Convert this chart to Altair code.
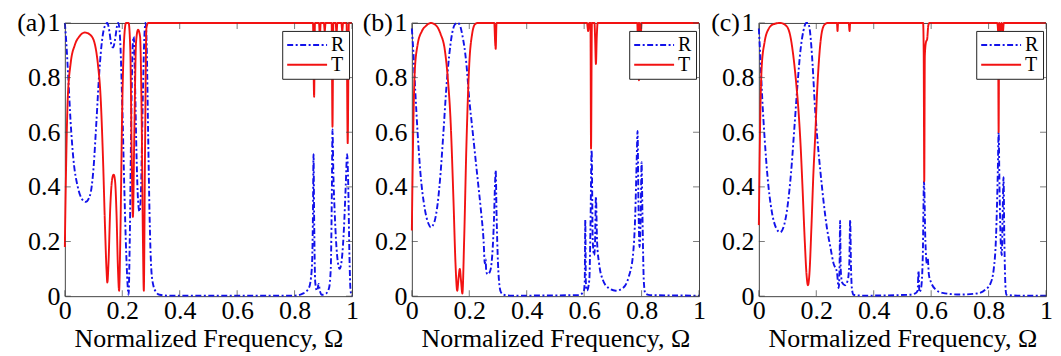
import altair as alt
import pandas as pd

# ------------------------------------------------------------------ data
x_title = "Normalized Frequency, Ω"
panel_labels = ["(a)", "(b)", "(c)"]
series_names = ["R", "T"]
tick_vals = [0, 0.2, 0.4, 0.6, 0.8, 1]

# panel (a)
a_R_f = [0, 0.005, 0.012, 0.02, 0.03, 0.045, 0.06, 0.073, 0.088, 0.1, 0.11, 0.12, 0.13, 0.14,
         0.148, 0.155, 0.162, 0.168, 0.175, 0.182, 0.186, 0.192, 0.2, 0.207, 0.214, 0.22, 0.222,
         0.226, 0.232, 0.237, 0.24, 0.244, 0.25, 0.255, 0.26, 0.265, 0.271, 0.277, 0.281, 0.285,
         0.29, 0.295, 0.301, 0.308, 0.318, 0.33, 0.36, 0.8, 0.83, 0.85, 0.86, 0.864, 0.866, 0.868,
         0.872, 0.878, 0.884, 0.888, 0.895, 0.91, 0.92, 0.926, 0.93, 0.932, 0.935, 0.94, 0.948,
         0.957, 0.965, 0.972, 0.978, 0.983, 0.987, 0.991, 0.995, 1.0]
a_R_v = [1.0, 0.93, 0.8, 0.64, 0.5, 0.4, 0.355, 0.345, 0.37, 0.47, 0.64, 0.82, 0.94, 0.99,
         1.0, 0.97, 0.92, 0.91, 0.94, 0.99, 1.0, 0.95, 0.7, 0.4, 0.15, 0.02, 0.005,
         0.2, 0.7, 0.93, 0.95, 0.8, 0.5, 0.35, 0.31, 0.38, 0.7, 0.95, 1.0, 0.92,
         0.6, 0.3, 0.1, 0.04, 0.015, 0.005, 0.002, 0.002, 0.01, 0.03, 0.1, 0.3, 0.52, 0.3,
         0.05, 0.02, 0.045, 0.02, 0.005, 0.01, 0.03, 0.1, 0.4, 0.61, 0.45, 0.3, 0.15,
         0.1, 0.14, 0.25, 0.4, 0.52, 0.4, 0.15, 0.02, 0.0]
a_T_f = [0, 0.004, 0.01, 0.02, 0.035, 0.05, 0.07, 0.09, 0.105, 0.115, 0.125, 0.133, 0.14, 0.145,
         0.148, 0.152, 0.158, 0.165, 0.17, 0.175, 0.18, 0.185, 0.189, 0.193, 0.2, 0.207, 0.213,
         0.222, 0.228, 0.233, 0.237, 0.242, 0.248, 0.255, 0.262, 0.267, 0.272, 0.275, 0.279, 0.284,
         0.29, 0.864, 0.868, 0.871, 0.885, 0.888, 0.891, 0.902, 0.905, 0.908, 0.929, 0.932, 0.935,
         0.943, 0.946, 0.949, 0.963, 0.966, 0.969, 0.981, 0.985, 0.989, 1.0]
a_T_v = [0.18, 0.45, 0.72, 0.85, 0.92, 0.95, 0.965, 0.955, 0.92, 0.85, 0.72, 0.5, 0.25, 0.1,
         0.05, 0.12, 0.32, 0.43, 0.445, 0.42, 0.3, 0.1, 0.02, 0.2, 0.7, 0.95, 1.0,
         1.0, 0.9, 0.5, 0.29, 0.6, 0.93, 0.975, 0.95, 0.7, 0.2, 0.02, 0.5, 0.98,
         1.0, 1.0, 0.73, 1.0, 1.0, 0.95, 1.0, 1.0, 0.97, 1.0, 1.0, 0.62, 1.0,
         1.0, 0.96, 1.0, 1.0, 0.97, 1.0, 1.0, 0.56, 1.0, 1.0]

# panel (b)
b_R_f = [0, 0.005, 0.012, 0.02, 0.03, 0.045, 0.058, 0.066, 0.078, 0.09, 0.1, 0.11, 0.12, 0.13,
         0.14, 0.15, 0.16, 0.168, 0.175, 0.19, 0.2, 0.21, 0.22, 0.23, 0.24, 0.25, 0.254, 0.257,
         0.259, 0.264, 0.272, 0.28, 0.286, 0.29, 0.292, 0.295, 0.3, 0.305, 0.31, 0.32, 0.35,
         0.58, 0.598, 0.602, 0.604, 0.606, 0.61, 0.618, 0.622, 0.626, 0.63, 0.635, 0.638, 0.641,
         0.645, 0.652, 0.665, 0.685, 0.71, 0.735, 0.755, 0.77, 0.778, 0.783, 0.786, 0.789, 0.793,
         0.797, 0.8, 0.803, 0.808, 0.813, 0.83, 1.0]
b_R_v = [0.98, 0.9, 0.75, 0.6, 0.45, 0.32, 0.265, 0.252, 0.27, 0.34, 0.45, 0.6, 0.76, 0.88,
         0.96, 0.995, 1.0, 0.99, 0.96, 0.85, 0.72, 0.62, 0.52, 0.42, 0.32, 0.2, 0.12, 0.135,
         0.09, 0.08, 0.09, 0.15, 0.28, 0.42, 0.46, 0.3, 0.12, 0.04, 0.015, 0.005, 0.002,
         0.004, 0.015, 0.05, 0.28, 0.05, 0.02, 0.06, 0.25, 0.535, 0.2, 0.15, 0.2, 0.365,
         0.2, 0.12, 0.06, 0.03, 0.02, 0.03, 0.07, 0.15, 0.3, 0.5, 0.605, 0.35, 0.18,
         0.3, 0.49, 0.3, 0.05, 0.01, 0.004, 0.002]
b_T_f = [0, 0.004, 0.01, 0.02, 0.035, 0.05, 0.066, 0.085, 0.1, 0.115, 0.125, 0.135, 0.145, 0.152,
         0.158, 0.163, 0.167, 0.171, 0.176, 0.182, 0.19, 0.2, 0.21, 0.22, 0.23, 0.287, 0.29,
         0.292, 0.295, 0.61, 0.614, 0.618, 0.622, 0.624, 0.627, 0.636, 0.638, 0.641, 0.644, 0.647,
         0.785, 0.787, 0.789, 0.791, 0.793, 0.797, 0.8, 1.0]
b_T_v = [0.24, 0.55, 0.82, 0.92, 0.97, 0.99, 1.0, 0.99, 0.96, 0.9, 0.8, 0.64, 0.35, 0.12,
         0.02, 0.07, 0.1, 0.06, 0.01, 0.2, 0.55, 0.85, 0.96, 0.995, 1.0, 1.0, 0.93,
         0.905, 1.0, 1.0, 0.97, 1.0, 1.0, 0.54, 1.0, 1.0, 0.95, 0.85, 0.95, 1.0,
         1.0, 0.95, 1.0, 0.79, 1.0, 0.95, 1.0, 1.0]

# panel (c)
c_R_f = [0, 0.005, 0.012, 0.02, 0.03, 0.045, 0.06, 0.074, 0.088, 0.1, 0.112, 0.124, 0.135, 0.145,
         0.155, 0.165, 0.171, 0.178, 0.187, 0.195, 0.205, 0.214, 0.225, 0.237, 0.249, 0.26, 0.272,
         0.278, 0.281, 0.283, 0.285, 0.29, 0.3, 0.31, 0.315, 0.318, 0.321, 0.325, 0.33, 0.36,
         0.52, 0.545, 0.553, 0.556, 0.559, 0.565, 0.571, 0.575, 0.58, 0.585, 0.588, 0.592, 0.6,
         0.615, 0.64, 0.7, 0.76, 0.79, 0.806, 0.818, 0.826, 0.832, 0.835, 0.838, 0.843, 0.846,
         0.849, 0.852, 0.855, 0.859, 0.862, 0.9, 1.0]
c_R_v = [0.98, 0.88, 0.72, 0.58, 0.44, 0.31, 0.25, 0.234, 0.26, 0.33, 0.45, 0.62, 0.78, 0.9,
         0.97, 1.0, 1.0, 0.97, 0.85, 0.7, 0.56, 0.46, 0.35, 0.25, 0.18, 0.12, 0.087,
         0.03, 0.1, 0.276, 0.1, 0.05, 0.04, 0.06, 0.12, 0.28, 0.1, 0.02, 0.005, 0.002,
         0.005, 0.01, 0.02, 0.093, 0.015, 0.03, 0.15, 0.42, 0.2, 0.12, 0.14, 0.08, 0.05,
         0.025, 0.012, 0.006, 0.01, 0.025, 0.045, 0.1, 0.22, 0.45, 0.6, 0.4, 0.18, 0.15,
         0.3, 0.435, 0.2, 0.03, 0.005, 0.002, 0.002]
c_T_f = [0, 0.004, 0.01, 0.02, 0.035, 0.05, 0.074, 0.095, 0.11, 0.12, 0.13, 0.138, 0.144, 0.152,
         0.16, 0.166, 0.171, 0.176, 0.183, 0.19, 0.196, 0.203, 0.212, 0.22, 0.23, 0.24, 0.272,
         0.274, 0.276, 0.313, 0.316, 0.318, 0.572, 0.574, 0.576, 0.578, 0.582, 0.586, 0.59, 0.594,
         0.83, 0.833, 0.835, 0.837, 0.842, 0.845, 0.85, 0.853, 1.0]
c_T_v = [0.26, 0.6, 0.84, 0.93, 0.98, 0.995, 1.0, 0.99, 0.95, 0.88, 0.78, 0.68, 0.58, 0.4,
         0.2, 0.08, 0.04, 0.08, 0.25, 0.45, 0.58, 0.75, 0.9, 0.97, 0.995, 1.0, 1.0,
         0.97, 1.0, 1.0, 0.97, 1.0, 1.0, 0.9, 0.42, 0.88, 0.93, 0.94, 0.99, 1.0,
         1.0, 0.97, 0.6, 1.0, 0.97, 1.0, 0.97, 1.0, 1.0]

# ------------------------------------------------------------------ style
FONT = "Liberation Serif"
RED = "#f21212"
BLUE = "#1212ea"
FRAME = "#444444"
W, H = 288, 274
LAB = 26


def panel(label, Rf, Rv, Tf, Tv):
    df = pd.concat([
        pd.DataFrame({"f": Rf, "v": Rv, "s": "R", "o": list(range(len(Rf)))}),
        pd.DataFrame({"f": Tf, "v": Tv, "s": "T", "o": list(range(len(Tf)))}),
    ], ignore_index=True)
    xs = alt.Scale(domain=[0, 1], nice=False, zero=False)
    ys = alt.Scale(domain=[0, 1], nice=False, zero=False)
    xaxis = alt.Axis(values=tick_vals, format="~g", labelFlush=False,
                     ticks=False, tickSize=0, domain=False, grid=False,
                     labelFont=FONT, labelFontSize=LAB, labelColor="black",
                     labelPadding=1, titleFont=FONT, titleFontSize=26,
                     titleFontWeight="normal", titleColor="black",
                     titleBaseline="alphabetic", titleY=50.5)
    yaxis = alt.Axis(values=tick_vals, format="~g", ticks=False, tickSize=0,
                     domain=False, grid=False, labelFont=FONT, labelFontSize=LAB,
                     labelColor="black", labelPadding=5)
    leg = alt.Legend(
        title=None, orient="none", legendX=218, legendY=8, direction="vertical",
        strokeColor="#222222", fillColor="white", padding=4, rowPadding=0,
        symbolType="stroke", symbolSize=1600, symbolStrokeWidth=2, clipHeight=20,
        labelFont=FONT, labelFontSize=20, labelColor="black", labelOffset=3,
    )
    lines = alt.Chart(df).mark_line(strokeWidth=1.9, interpolate="monotone").encode(
        x=alt.X("f:Q", scale=xs, title=x_title, axis=xaxis),
        y=alt.Y("v:Q", scale=ys, title=None, axis=yaxis),
        color=alt.Color("s:N", scale=alt.Scale(domain=series_names, range=[BLUE, RED]),
                        legend=leg),
        strokeDash=alt.StrokeDash("s:N", scale=alt.Scale(domain=series_names,
                                                         range=[[6, 2.5, 2, 2.5], [1, 0]]),
                                  legend=leg),
        order=alt.Order("o:Q"),
    )
    tdf = pd.DataFrame({"t": tick_vals})
    tx = alt.X("t:Q", scale=xs, title=x_title, axis=xaxis)
    ty = alt.Y("t:Q", scale=ys, title=None, axis=yaxis)
    tick_b = alt.Chart(tdf).mark_tick(orient="vertical", size=6, thickness=1, color=FRAME).encode(
        x=tx, y=alt.value(H - 3))
    tick_t = alt.Chart(tdf).mark_tick(orient="vertical", size=6, thickness=1, color=FRAME).encode(
        x=tx, y=alt.value(3))
    tick_l = alt.Chart(tdf).mark_tick(orient="horizontal", size=6, thickness=1, color=FRAME).encode(
        y=ty, x=alt.value(3))
    tick_r = alt.Chart(tdf).mark_tick(orient="horizontal", size=6, thickness=1, color=FRAME).encode(
        y=ty, x=alt.value(W - 3))
    lab = alt.Chart(pd.DataFrame({"label": [label]})).mark_text(
        align="right", baseline="middle", font=FONT, fontSize=LAB, color="black").encode(
        x=alt.value(-19), y=alt.value(0), text="label:N")
    return alt.layer(lines, tick_b, tick_t, tick_l, tick_r, lab).properties(width=W, height=H)


pa = panel(panel_labels[0], a_R_f, a_R_v, a_T_f, a_T_v)
pb = panel(panel_labels[1], b_R_f, b_R_v, b_T_f, b_T_v)
pc = panel(panel_labels[2], c_R_f, c_R_v, c_T_f, c_T_v)

chart = alt.hconcat(pa, pb, pc, spacing=60, bounds="flush").resolve_scale(
    color="independent", strokeDash="independent"
).properties(
    padding={"left": 8, "top": 0.5, "right": 0, "bottom": 0},
    background="white",
).configure_view(stroke=FRAME, strokeWidth=1)

chart.save("out.html", embed_options={"renderer": "svg", "actions": False})
